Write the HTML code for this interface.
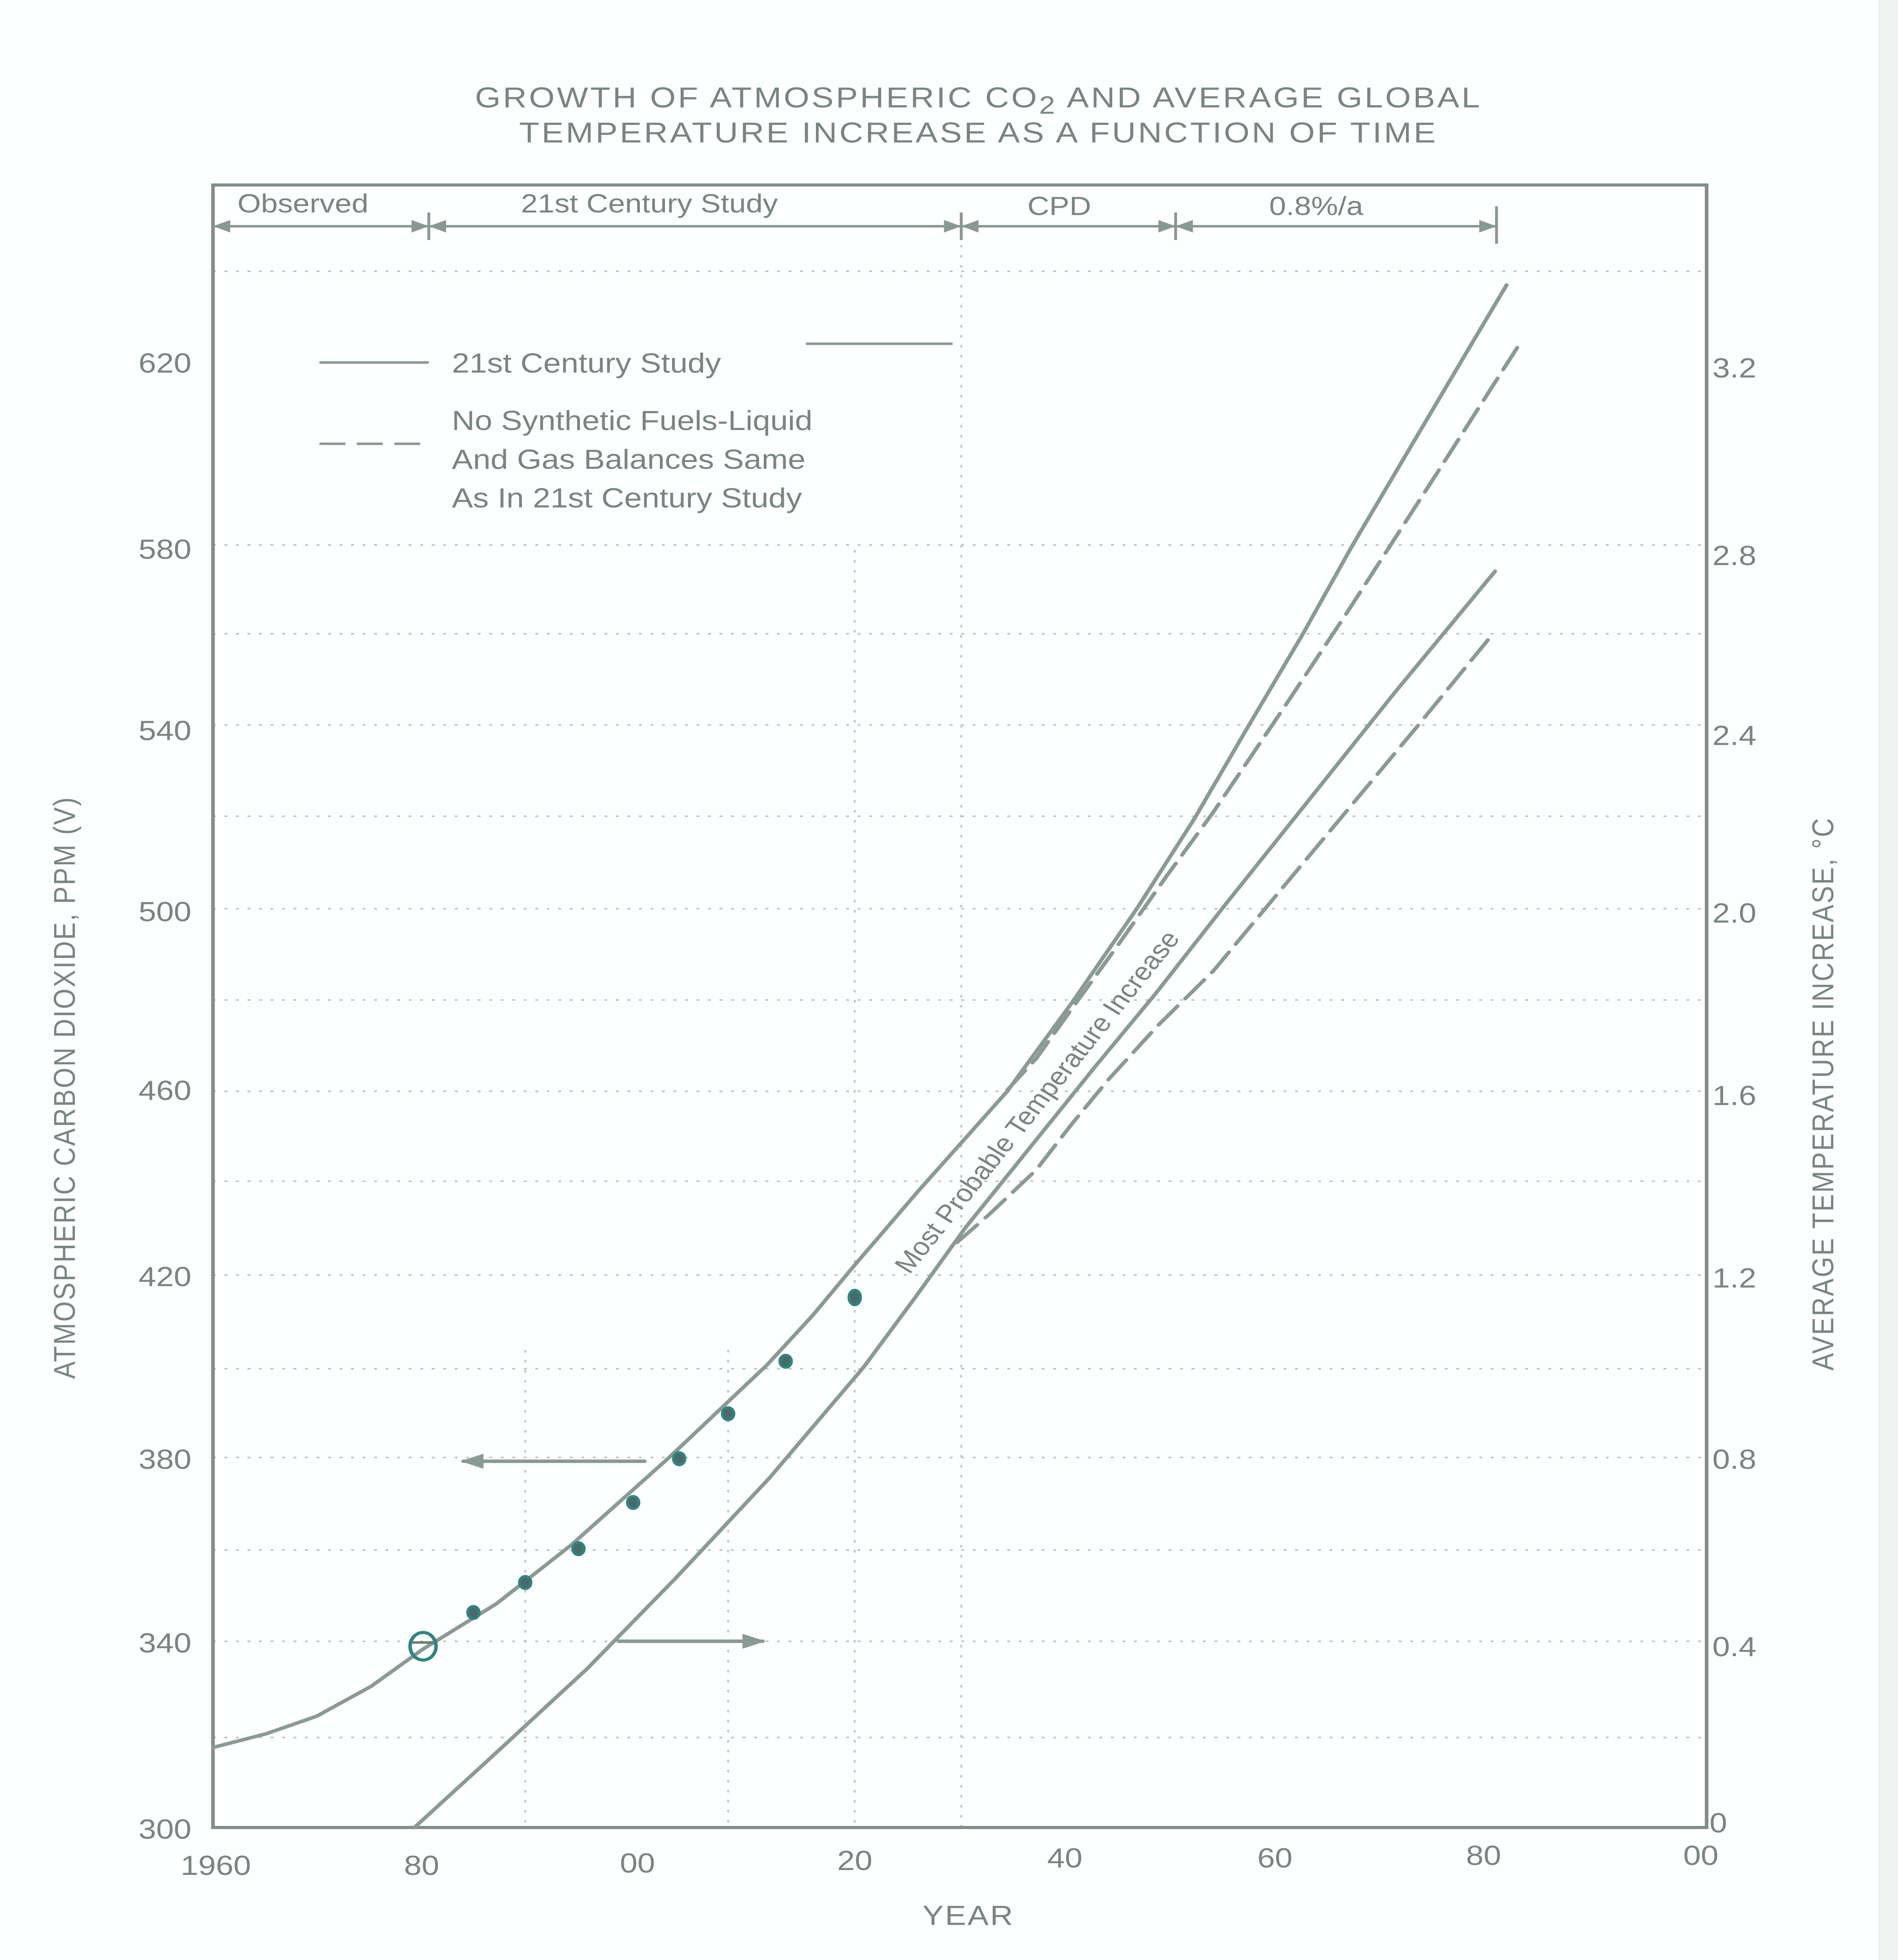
<!DOCTYPE html>
<html><head><meta charset="utf-8"><style>
html,body{margin:0;padding:0;background:#fdfefe;width:100%;height:100%;overflow:hidden;}
svg{display:block;width:100vw;height:100vh;}
text{font-family:"Liberation Sans",sans-serif;fill:#7a8582;}
</style></head><body>
<svg viewBox="0 0 1319 1568" preserveAspectRatio="none" xmlns="http://www.w3.org/2000/svg">
<rect width="1319" height="1568" fill="#fdfefe"/>
<rect x="1305" y="0" width="14" height="1568" fill="#f1f3f3"/>
<text x="680" y="86" font-size="23" text-anchor="middle" letter-spacing="1.5">GROWTH OF ATMOSPHERIC CO<tspan font-size="20" dy="5">2</tspan><tspan dy="-5"> AND AVERAGE GLOBAL</tspan></text>
<text x="680" y="114" font-size="23" text-anchor="middle" letter-spacing="1.5">TEMPERATURE INCREASE AS A FUNCTION OF TIME</text>
<g stroke="#b8c2bf" stroke-width="1.2" stroke-dasharray="2 6">
<line x1="148" y1="1390" x2="1186" y2="1390"/><line x1="148" y1="1240" x2="1186" y2="1240"/>
<line x1="148" y1="1095" x2="1186" y2="1095"/><line x1="148" y1="945" x2="1186" y2="945"/>
<line x1="148" y1="800" x2="1186" y2="800"/><line x1="148" y1="653" x2="1186" y2="653"/>
<line x1="148" y1="507" x2="1186" y2="507"/><line x1="148" y1="217" x2="1186" y2="217"/>
<line x1="148" y1="1313" x2="1186" y2="1313"/><line x1="148" y1="1166" x2="1186" y2="1166"/>
<line x1="148" y1="1020" x2="1186" y2="1020"/><line x1="148" y1="873" x2="1186" y2="873"/>
<line x1="148" y1="727" x2="1186" y2="727"/><line x1="148" y1="580" x2="1186" y2="580"/>
<line x1="148" y1="436" x2="1186" y2="436"/>
<line x1="365" y1="1080" x2="365" y2="1462"/><line x1="506" y1="1080" x2="506" y2="1462"/>
<line x1="594" y1="440" x2="594" y2="1462"/><line x1="668" y1="180" x2="668" y2="1462"/>
</g>
<g stroke="#7f8f8b" stroke-width="2.5" fill="none">
<rect x="148" y="148" width="1038" height="1314"/>
</g>
<g stroke="#8a9893" stroke-width="2" fill="none">
<line x1="148" y1="181" x2="1040" y2="181"/>
<line x1="298" y1="170" x2="298" y2="192"/><line x1="668" y1="170" x2="668" y2="192"/>
<line x1="817" y1="170" x2="817" y2="192"/><line x1="1040" y1="165" x2="1040" y2="195"/>
<line x1="222" y1="290" x2="298" y2="290"/>
<line x1="222" y1="355" x2="298" y2="355" stroke-dasharray="18 8"/>
<line x1="560" y1="275" x2="662" y2="275"/>
</g>
<g fill="#8a9893">
<path d="M148 181 l12 -5 v10z M298 181 l-12 -5 v10z M298 181 l12 -5 v10z M668 181 l-12 -5 v10z M668 181 l12 -5 v10z M817 181 l-12 -5 v10z M817 181 l12 -5 v10z M1040 181 l-12 -5 v10z"/>
</g>
<text x="165" y="170" font-size="21">Observed</text>
<text x="362" y="170" font-size="21">21st Century Study</text>
<text x="714" y="172" font-size="21">CPD</text>
<text x="882" y="172" font-size="21">0.8%/a</text>
<text x="314" y="298" font-size="22">21st Century Study</text>
<text x="314" y="344" font-size="22">No Synthetic Fuels-Liquid</text>
<text x="314" y="375" font-size="22">And Gas Balances Same</text>
<text x="314" y="406" font-size="22">As In 21st Century Study</text>
<g font-size="22" text-anchor="end">
<text x="133" y="298">620</text><text x="133" y="447">580</text><text x="133" y="592">540</text>
<text x="133" y="737">500</text><text x="133" y="880">460</text><text x="133" y="1029">420</text>
<text x="133" y="1175">380</text><text x="133" y="1322">340</text><text x="133" y="1471">300</text>
</g>
<g font-size="22">
<text x="1190" y="302">3.2</text><text x="1190" y="452">2.8</text><text x="1190" y="596">2.4</text>
<text x="1190" y="738">2.0</text><text x="1190" y="884">1.6</text><text x="1190" y="1030">1.2</text>
<text x="1190" y="1175">0.8</text><text x="1190" y="1325">0.4</text><text x="1188" y="1466">0</text>
</g>
<g font-size="22" text-anchor="middle">
<text x="150" y="1500">1960</text><text x="293" y="1500">80</text><text x="443" y="1498">00</text>
<text x="594" y="1496">20</text><text x="740" y="1494">40</text><text x="886" y="1494">60</text>
<text x="1031" y="1492">80</text><text x="1182" y="1492">00</text>
<text x="673" y="1540" letter-spacing="1">YEAR</text>
</g>
<text transform="translate(52 870) rotate(-90)" font-size="21" text-anchor="middle" letter-spacing="1">ATMOSPHERIC CARBON DIOXIDE, PPM (V)</text>
<text transform="translate(1274 875) rotate(-90)" font-size="21" text-anchor="middle" letter-spacing="1">AVERAGE TEMPERATURE INCREASE, °C</text>
<text transform="translate(632 1020) rotate(-55)" font-size="20">Most Probable Temperature Increase</text>
<g stroke="#8a9a94" stroke-width="2.8" fill="none" stroke-linecap="round" stroke-linejoin="round">
<polyline points="148,1398 185,1387 220,1373 258,1349 293,1320 345,1283 397,1236 465,1166 533,1092 565,1052 594,1012 638,953 700,873 745,802 790,727 830,655 868,580 905,508 940,436 978,362 1015,290 1047,228"/>
<polyline points="700,872 720,847 748,802 777,756 810,702 843,650 890,570 935,492 995,385 1055,277" stroke-dasharray="20 8"/>
<polyline points="288,1462 345,1402 408,1335 470,1262 535,1182 600,1094 636,1038 671,982 720,912 762,852 803,795 852,723 902,651 970,553 1039,457"/>
<polyline points="665,994 687,972 720,936 745,899 770,864 805,820 843,777 890,712 935,650 985,581 1034,512" stroke-dasharray="20 8"/>
<line x1="322" y1="1169" x2="448" y2="1169"/>
<line x1="430" y1="1313" x2="530" y2="1313"/>
</g>
<g fill="#8a9a94"><path d="M320 1169 l16 -6 v12z M532 1313 l-16 -6 v12z"/></g>
<g fill="#4a6a68" stroke="#2e8582" stroke-width="2">
<ellipse cx="329" cy="1290" rx="4" ry="5"/><ellipse cx="365" cy="1266" rx="4" ry="5"/>
<ellipse cx="402" cy="1239" rx="4" ry="5"/><ellipse cx="440" cy="1202" rx="4" ry="5"/>
<ellipse cx="472" cy="1167" rx="4" ry="5"/><ellipse cx="506" cy="1131" rx="4" ry="5"/>
<ellipse cx="546" cy="1089" rx="4" ry="5"/><ellipse cx="594" cy="1038" rx="4" ry="6"/>
</g>
<ellipse cx="294" cy="1317" rx="9" ry="11" fill="none" stroke="#2e8582" stroke-width="2.5"/>
<line x1="286" y1="1314" x2="302" y2="1314" stroke="#6a7a78" stroke-width="2"/>
</svg>
</body></html>
